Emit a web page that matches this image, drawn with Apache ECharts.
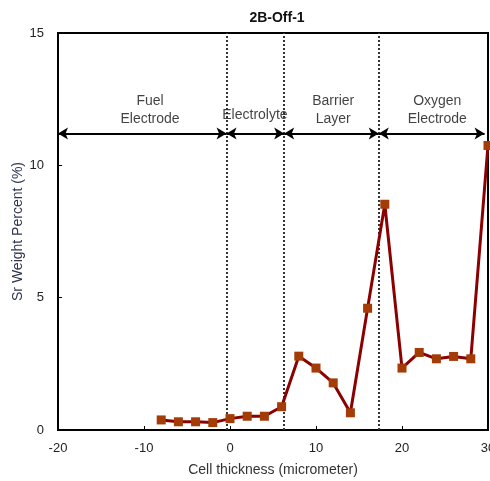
<!DOCTYPE html>
<html>
<head>
<meta charset="utf-8">
<script src="https://cdn.jsdelivr.net/npm/echarts@6/dist/echarts.min.js"></script>
<style>
  html, body { margin: 0; padding: 0; background: #fff; }
  #chart { width: 490px; height: 481px; }
</style>
</head>
<body>
<div id="chart"></div>
<script>
// cell position (micrometer) and Sr weight percent
var xVals = [-8, -6, -4, -2, 0, 2, 4, 6, 8, 10, 12, 14, 16, 18, 20, 22, 24, 26, 28, 30];
var srVals = [0.38, 0.31, 0.31, 0.28, 0.43, 0.52, 0.52, 0.88, 2.79, 2.34, 1.78, 0.65, 4.6, 8.53, 2.34, 2.93, 2.69, 2.78, 2.69, 10.75];

// layer boundaries (dotted lines) and the arrow spans
var boundaries = [-0.4, 6.3, 17.3];
var spanEdges = [-20, -0.4, 6.3, 17.3, 29.6];
var arrowY = 11.2;

// layer names and where their text sits
var layerNames = ['Fuel\nElectrode', 'Electrolyte', 'Barrier\nLayer', 'Oxygen\nElectrode'];
var layerLabelX = [-9.3, 2.9, 12, 24.1];
var layerLabelY = [12.1, 11.9, 12.1, 12.1];

var chart = echarts.init(document.getElementById('chart'));

var arrows = [];
for (var i = 0; i < spanEdges.length - 1; i++) {
  arrows.push([{ coord: [spanEdges[i], arrowY] }, { coord: [spanEdges[i + 1], arrowY] }]);
}

var option = {
  animation: false,
  textStyle: { fontFamily: 'Liberation Sans, Arial, sans-serif' },
  title: {
    text: '2B-Off-1',
    left: 272,
    top: 6,
    textAlign: 'center',
    textStyle: { fontSize: 14, fontWeight: 'bold', color: '#111' }
  },
  grid: {
    left: 58, right: 2, top: 33, bottom: 51,
    outerBoundsMode: 'none',
    containLabel: false,
    show: true, borderColor: '#000', borderWidth: 2
  },
  xAxis: {
    type: 'value',
    min: -20, max: 30, interval: 10,
    name: 'Cell thickness (micrometer)',
    nameLocation: 'middle',
    nameGap: 33,
    nameTextStyle: { fontSize: 14, color: '#333' },
    axisLine: { onZero: false, lineStyle: { color: '#000', width: 2 } },
    axisTick: { inside: true, length: 4, lineStyle: { color: '#000' } },
    axisLabel: { fontSize: 13, color: '#222', margin: 12 },
    splitLine: { show: false }
  },
  yAxis: {
    type: 'value',
    position: 'left',
    min: 0, max: 15, interval: 5,
    name: 'Sr Weight Percent (%)',
    nameLocation: 'middle',
    nameGap: 33,
    nameMoveOverlap: false,
    nameTextStyle: { fontSize: 14, color: '#2e3650' },
    axisLine: { onZero: false, lineStyle: { color: '#000', width: 2 } },
    axisTick: { inside: true, length: 4, lineStyle: { color: '#000' } },
    axisLabel: { fontSize: 13, color: '#222', margin: 14 },
    splitLine: { show: false }
  },
  series: [
    {
      type: 'line',
      data: xVals.map(function (x, i) { return [x, srVals[i]]; }),
      symbol: 'rect',
      symbolSize: 9,
      lineStyle: { color: '#8b0000', width: 3 },
      itemStyle: { color: '#a33c06' },
      z: 5,
      markLine: {
        silent: true,
        symbol: ['none', 'none'],
        label: { show: false },
        lineStyle: { color: '#333', type: 'dotted', width: 2 },
        data: boundaries.map(function (b) { return { xAxis: b }; })
      }
    },
    {
      type: 'line',
      data: [],
      markLine: {
        silent: true,
        symbol: ['arrow', 'arrow'],
        symbolSize: [9, 10],
        label: { show: false },
        lineStyle: { color: '#000', type: 'solid', width: 2 },
        data: arrows
      }
    },
    {
      type: 'scatter',
      silent: true,
      symbolSize: 0,
      data: layerNames.map(function (n, i) {
        return { name: n, value: [layerLabelX[i], layerLabelY[i]] };
      }),
      label: {
        show: true,
        position: 'inside',
        formatter: '{b}',
        fontSize: 14,
        lineHeight: 18,
        color: '#111'
      }
    }
  ]
};

chart.setOption(option);
</script>
</body>
</html>
